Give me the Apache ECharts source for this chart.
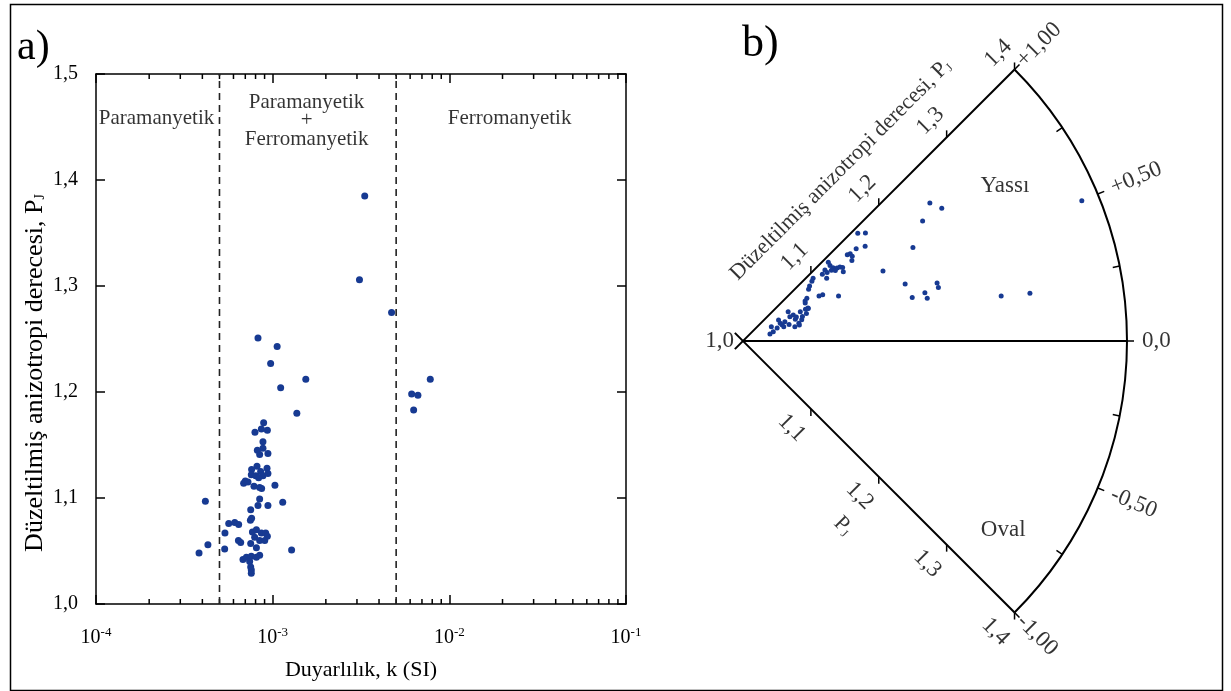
<!DOCTYPE html>
<html>
<head>
<meta charset="utf-8">
<script src="https://cdn.jsdelivr.net/npm/echarts@6.0.0/dist/echarts.min.js"></script>
<style>
html, body { margin: 0; padding: 0; background: #fff; }
#chart { width: 1231px; height: 691px; }
</style>
</head>
<body>
<div id="chart"></div>
<script>
// a) susceptibility k (SI) vs corrected anisotropy degree Pj
const kLeft = [8.26e-4, 1.06e-3, 9.74e-4, 1.54e-3, 1.11e-3, 1.37e-3, 6.12e-3, 6.64e-3, 6.28e-3, 7.80e-3, 3.1e-3, 3.32e-3, 4.71e-3,
  8.89e-4, 8.63e-4, 9.33e-4, 7.94e-4, 8.81e-4, 8.81e-4, 8.19e-4, 9.4e-4, 8.44e-4, 8.15e-4,
  7.6e-4, 9.29e-4, 8.55e-4, 7.57e-4, 8.02e-4, 8.81e-4, 9.4e-4, 8.33e-4, 7.0e-4, 6.85e-4,
  7.25e-4, 7.84e-4, 8.44e-4, 8.66e-4, 1.03e-3, 4.16e-4, 8.44e-4, 8.26e-4, 9.4e-4, 1.14e-3,
  7.51e-4, 7.48e-4, 7.6e-4, 5.64e-4, 6.1e-4, 6.42e-4, 5.37e-4, 7.68e-4, 8.09e-4, 8.63e-4,
  9.13e-4, 9.33e-4, 7.91e-4, 8.44e-4, 9.02e-4, 6.4e-4, 6.59e-4, 7.51e-4, 8.09e-4, 4.3e-4,
  3.83e-4, 5.35e-4, 1.28e-3, 8.44e-4, 6.79e-4, 7.1e-4, 7.57e-4, 8.09e-4, 7.41e-4, 7.51e-4,
  7.57e-4, 7.57e-4]
const pjLeft = [1.251, 1.243, 1.227, 1.212, 1.204, 1.180, 1.198, 1.197, 1.183, 1.212, 1.306, 1.385, 1.275,
  1.171, 1.165, 1.164, 1.162, 1.153, 1.147, 1.145, 1.142, 1.141, 1.130,
  1.127, 1.128, 1.125, 1.122, 1.121, 1.121, 1.123, 1.119, 1.116, 1.114,
  1.115, 1.111, 1.110, 1.109, 1.112, 1.097, 1.099, 1.093, 1.093, 1.096,
  1.089, 1.079, 1.081, 1.076, 1.077, 1.075, 1.067, 1.068, 1.070, 1.067,
  1.067, 1.064, 1.063, 1.060, 1.060, 1.060, 1.058, 1.057, 1.053, 1.056,
  1.048, 1.052, 1.051, 1.046, 1.042, 1.044, 1.045, 1.044, 1.040, 1.035,
  1.032, 1.029]

// b) Jelinek plot: Pj (radius) and shape parameter T (angle)
const pjRight = [1.242, 1.249, 1.382, 1.225, 1.164, 1.170, 1.161, 1.152, 1.202, 1.141, 1.144, 1.144, 1.141, 1.163,
  1.121, 1.120, 1.121, 1.124, 1.127, 1.129, 1.113, 1.118, 1.108, 1.113, 1.121, 1.127,
  1.109, 1.092, 1.096, 1.110, 1.179, 1.211, 1.211, 1.182, 1.196, 1.197, 1.273, 1.303,
  1.098, 1.095, 1.090, 1.087, 1.080, 1.077, 1.076, 1.076,
  1.029, 1.033, 1.033, 1.038, 1.043, 1.043, 1.044, 1.048, 1.045, 1.056, 1.055, 1.051,
  1.059, 1.059, 1.061, 1.061, 1.067, 1.065, 1.067, 1.073, 1.076, 1.072, 1.056, 1.061]
const tRight = [0.81, 0.75, 0.50, 0.75, 0.96, 0.92, 0.84, 0.87, 0.64, 0.88, 0.87, 0.84, 0.81, 0.59,
  0.95, 0.91, 0.87, 0.84, 0.83, 0.81, 0.91, 0.86, 0.89, 0.87, 0.83, 0.77,
  0.82, 0.68, 0.67, 0.56, 0.43, 0.37, 0.34, 0.32, 0.33, 0.29, 0.22, 0.21,
  0.93, 0.91, 0.88, 0.85, 0.75, 0.73, 0.60, 0.70,
  0.32, 0.38, 0.59, 0.46, 0.68, 0.57, 0.50, 0.55, 0.43, 0.73, 0.61, 0.44,
  0.61, 0.50, 0.54, 0.39, 0.60, 0.44, 0.50, 0.60, 0.59, 0.52, 0.34, 0.35]

const domainBounds = [5e-4, 5e-3]
const radiusTicks = [1.1, 1.2, 1.3, 1.4]
const tTicks = [1, 0.5, 0, -0.5, -1]
const tTickLabels = ['+1,00', '+0,50', '0,0', '-0,50', '-1,00']
// straight lines of the sector: [Pj from, T, Pj to]
const sectorLines = [[0.988, 1, 1.4], [0.988, -1, 1.4], [1, 0, 1.4]]

// minor ticks of the log axis (2..9 in every decade)
const minorTicks = []
;[1e-4, 1e-3, 1e-2].forEach(d => { for (let m = 2; m <= 9; m++) minorTicks.push(m * d) })

const serif = 'Liberation Serif'
const dotColor = '#173a92'
const comma = v => v.toFixed(1).replace('.', ',')
const black = () => ({ color: '#000', width: 1.5 })
const center = [743, 341]
const R = 384

const chart = echarts.init(document.getElementById('chart'))

const leftAxisCommon = () => ({
  axisLine: { lineStyle: black() },
  axisTick: { inside: true, length: 9, lineStyle: black() },
  splitLine: { show: false }
})

const textLabel = (txt, extra) => Object.assign({
  show: true, formatter: txt, color: '#000', fontFamily: serif, fontSize: 23, position: 'inside'
}, extra || {})

const hiddenAxis = () => ({ axisLine: { show: false }, axisTick: { show: false }, axisLabel: { show: false }, splitLine: { show: false } })

const option = {
  animation: false,
  backgroundColor: '#fff',
  textStyle: { fontFamily: serif },
  grid: { left: 96, top: 74, width: 530, height: 530 },
  xAxis: [
    Object.assign({
      type: 'log', logBase: 10, min: 1e-4, max: 1e-1, position: 'bottom',
      axisLabel: {
        margin: 22, color: '#000', fontFamily: serif, fontSize: 20,
        formatter: v => '10{sup|' + Math.round(Math.log10(v)) + '}',
        rich: { sup: { fontSize: 13, fontFamily: serif, color: '#000', padding: [0, 0, 10, 0] } }
      },
      name: 'Duyarlılık, k (SI)', nameLocation: 'middle', nameGap: 55,
      nameTextStyle: { color: '#000', fontFamily: serif, fontSize: 22 }
    }, leftAxisCommon()),
    Object.assign({
      type: 'log', logBase: 10, min: 1e-4, max: 1e-1, position: 'top',
      axisLabel: { show: false }
    }, leftAxisCommon())
  ],
  yAxis: [
    Object.assign({
      type: 'value', min: 1, max: 1.5, interval: 0.1, position: 'left',
      axisLabel: { margin: 18, color: '#000', fontFamily: serif, fontSize: 20, formatter: comma },
      name: 'Düzeltilmiş anizotropi derecesi, P{sub|J}', nameLocation: 'middle', nameGap: 48,
      nameTextStyle: {
        color: '#000', fontFamily: serif, fontSize: 26, padding: [0, 68, 0, 0],
        rich: { sub: { fontSize: 14, fontFamily: serif, color: '#000', padding: [10, 0, 0, 0] } }
      }
    }, leftAxisCommon()),
    Object.assign({
      type: 'value', min: 1, max: 1.5, interval: 0.1, position: 'right',
      axisLabel: { show: false }
    }, leftAxisCommon())
  ],
  polar: [
    { center: center, radius: R },
    { center: center, radius: R }
  ],
  angleAxis: [
    {
      polarIndex: 0, type: 'value', min: -1, max: 1, interval: 0.5,
      startAngle: -45, endAngle: 45, clockwise: false,
      axisLine: { lineStyle: { color: '#000', width: 2 } },
      axisTick: { show: true, inside: false, length: 7, lineStyle: black() },
      axisLabel: { show: false }, splitLine: { show: false }
    },
    // intermediate T ticks (±0,25 and ±0,75) point inwards
    Object.assign({
      polarIndex: 1, type: 'value', min: -0.75, max: 0.75, interval: 0.5,
      startAngle: -33.75, endAngle: 33.75, clockwise: false
    }, hiddenAxis(), { axisTick: { show: true, inside: true, length: 7, lineStyle: black() } })
  ],
  radiusAxis: [
    Object.assign({ polarIndex: 0, type: 'value', min: 1, max: 1.4, interval: 0.1 }, hiddenAxis()),
    Object.assign({ polarIndex: 1, type: 'value', min: 1, max: 1.4 }, hiddenAxis())
  ],
  graphic: [
    { type: 'rect', left: 8, top: 2, shape: { width: 1212, height: 686 }, style: { fill: 'none', stroke: '#000', lineWidth: 1.5 }, silent: true },
    { type: 'text', left: 17, top: 27, style: { text: 'a)', font: '42px "Liberation Serif"', fill: '#000' }, silent: true },
    { type: 'text', left: 742, top: 22, style: { text: 'b)', font: '44px "Liberation Serif"', fill: '#000' }, silent: true }
  ],
  series: [
    // ---- panel a
    {
      type: 'custom', xAxisIndex: 0, yAxisIndex: 0, silent: true, clip: false,
      data: minorTicks.map(v => [v, 1]),
      renderItem: (params, api) => {
        const b = api.coord([api.value(0), 1.0])
        const t = api.coord([api.value(0), 1.5])
        const st = { stroke: '#000', lineWidth: 1.5 }
        return {
          type: 'group',
          children: [
            { type: 'line', shape: { x1: b[0], y1: b[1], x2: b[0], y2: b[1] - 5 }, style: st },
            { type: 'line', shape: { x1: t[0], y1: t[1], x2: t[0], y2: t[1] + 5 }, style: st }
          ]
        }
      }
    },
    {
      // dashed boundaries between the magnetic domains
      type: 'custom', xAxisIndex: 0, yAxisIndex: 0, silent: true, clip: false,
      data: domainBounds.map(v => [v, 1]),
      renderItem: (params, api) => {
        const b = api.coord([api.value(0), 1.0])
        const t = api.coord([api.value(0), 1.5])
        return {
          type: 'line',
          shape: { x1: b[0], y1: b[1], x2: t[0], y2: t[1] },
          style: { stroke: '#222', lineWidth: 1.6, lineDash: [7, 5] }
        }
      }
    },
    {
      type: 'scatter', xAxisIndex: 0, yAxisIndex: 0, silent: true,
      symbolSize: 7, itemStyle: { color: dotColor, opacity: 1 },
      data: kLeft.map((k, i) => [k, pjLeft[i]])
    },
    {
      type: 'scatter', xAxisIndex: 0, yAxisIndex: 0, silent: true, symbolSize: 0,
      data: [
        { value: [2.2e-4, 1.4585], label: textLabel('Paramanyetik', { fontSize: 21 }) },
        { value: [1.556e-3, 1.456], label: textLabel('Paramanyetik\n+\nFerromanyetik', { fontSize: 21, lineHeight: 18.5 }) },
        { value: [0.02193, 1.4585], label: textLabel('Ferromanyetik', { fontSize: 21 }) }
      ]
    },
    // ---- panel b: sector edges and the T = 0 line
    {
      type: 'custom', coordinateSystem: 'polar', polarIndex: 0, silent: true, clip: false,
      data: sectorLines,
      renderItem: (params, api) => {
        const a = api.coord([api.value(0), api.value(1)])
        const b = api.coord([api.value(2), api.value(1)])
        return {
          type: 'line',
          shape: { x1: a[0], y1: a[1], x2: b[0], y2: b[1] },
          style: { stroke: '#000', lineWidth: 2 }
        }
      }
    },
    {
      // Pj ticks on both straight edges, short strokes on the outer side
      type: 'custom', coordinateSystem: 'polar', polarIndex: 0, silent: true, clip: false,
      data: [].concat(radiusTicks.map(r => [r, 1]), radiusTicks.map(r => [r, -1])),
      renderItem: (params, api) => {
        const p = api.coord([api.value(0), api.value(1)])
        const dir = api.value(1) > 0 ? -1 : 1
        return {
          type: 'line',
          shape: { x1: p[0], y1: p[1], x2: p[0], y2: p[1] + dir * 7 },
          style: { stroke: '#000', lineWidth: 1.5 }
        }
      }
    },
    {
      type: 'scatter', coordinateSystem: 'polar', polarIndex: 0, silent: true,
      symbolSize: 5, itemStyle: { color: dotColor, opacity: 1 },
      data: pjRight.map((p, i) => [p, tRight[i]])
    },
    {
      type: 'scatter', coordinateSystem: 'polar', polarIndex: 0, silent: true, symbolSize: 0,
      data: [].concat(
        radiusTicks.map(r => ({ value: [r, 1], label: textLabel(comma(r), { rotate: 45, offset: [0, -23] }) })),
        radiusTicks.map(r => ({ value: [r, -1], label: textLabel(comma(r), { rotate: -45, offset: [0, 27] }) })),
        tTicks.map((t, i) => ({
          value: [1.4, t],
          label: textLabel(tTickLabels[i], { rotate: 45 * t, align: 'left', offset: [Math.abs(t) === 1 ? 8 : 15, 0] })
        })),
        [
          { value: [1, 0], label: textLabel('1,0', { position: 'left', distance: 9 }) },
          { value: [1.198, 1], label: textLabel('Düzeltilmiş anizotropi derecesi, P{sub|J}', {
            rotate: 45, offset: [0, -52], fontSize: 22,
            rich: { sub: { fontSize: 12, fontFamily: serif, color: '#000', padding: [10, 0, 0, 0] } }
          }) },
          { value: [1.21, -1], label: textLabel('P{sub|J}', {
            rotate: -45, offset: [0, 60], fontSize: 22,
            rich: { sub: { fontSize: 12, fontFamily: serif, color: '#000', padding: [10, 0, 0, 0] } }
          }) },
          { value: [1.458, 0], label: textLabel('Şekil parametresi, {it|T}', {
            rotate: -90, fontSize: 24,
            rich: { it: { fontSize: 24, fontFamily: serif, fontStyle: 'italic', color: '#000' } }
          }) },
          { value: [1.317, 0.68], label: textLabel('Yassı') },
          { value: [1.335, -0.80], label: textLabel('Oval') }
        ]
      )
    }
  ]
}

chart.setOption(option)
</script>
</body>
</html>
